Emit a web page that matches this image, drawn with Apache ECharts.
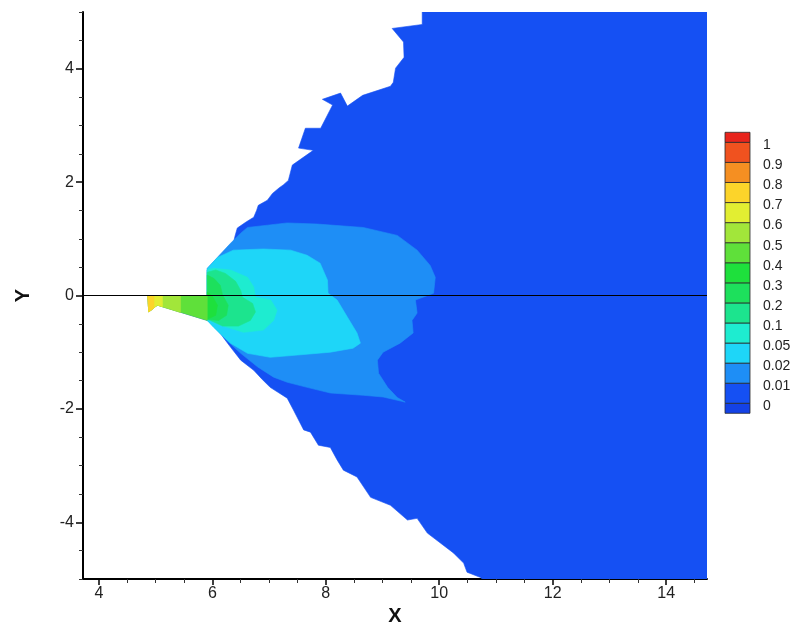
<!DOCTYPE html>
<html>
<head>
<meta charset="utf-8">
<script src="https://cdn.jsdelivr.net/npm/echarts@6/dist/echarts.min.js"></script>
<style>
html,body{margin:0;padding:0;background:#fff;}
#chart{width:799px;height:627px;}
</style>
</head>
<body>
<div id="chart"></div>
<script>
// ---- axis extents and ticks ----
const xRange = [3.72, 14.72];
const yRange = [-5, 5];
const xMajorTicks = [4, 6, 8, 10, 12, 14];
const xMinorTicks = [4.5, 5, 5.5, 6.5, 7, 7.5, 8.5, 9, 9.5, 10.5, 11, 11.5, 12.5, 13, 13.5, 14.5];
const yMajorTicks = [-4, -2, 0, 2, 4];
const yMinorTicks = [-5, -4.5, -3.5, -3, -2.5, -1.5, -1, -0.5, 0.5, 1, 1.5, 2.5, 3, 3.5, 4.5, 5];

// ---- contour levels and band colours (band 0 = below 0, band 14 = above 1) ----
const levelLabels = ['0', '0.01', '0.02', '0.05', '0.1', '0.2', '0.3', '0.4', '0.5', '0.6', '0.7', '0.8', '0.9', '1'];
const bandColors = ['#1442e6', '#1550f3', '#1e8ef6', '#1ed6f8', '#1eecd0', '#1ce48e', '#1de05c', '#1ee03c',
                    '#5fe03a', '#a2e63a', '#e2ee32', '#fcd42a', '#f58f22', '#f0521f', '#e8241c'];

// ---- contour regions (data coordinates X, Y) ----
const regionDomain = [
  [9.70, 5.0], [9.70, 4.78], [9.17, 4.71], [9.37, 4.47], [9.38, 4.20], [9.23, 4.01], [9.19, 3.76],
  [9.14, 3.69], [8.65, 3.53], [8.38, 3.34], [8.26, 3.57], [7.94, 3.46], [8.12, 3.36], [7.91, 2.95],
  [7.64, 2.95], [7.52, 2.60], [7.78, 2.56], [7.41, 2.30], [7.34, 2.03], [7.25, 1.95], [7.18, 1.90],
  [7.06, 1.80], [6.97, 1.68], [6.81, 1.59], [6.78, 1.50], [6.73, 1.38], [6.60, 1.30], [6.44, 1.19],
  [6.40, 1.05], [6.37, 0.92], [6.25, 0.80], [6.11, 0.66], [6.02, 0.55], [5.91, 0.45],
  [5.91, 0.0], [4.86, 0.0], [4.88, -0.29], [5.03, -0.17], [5.91, -0.44],
  [6.09, -0.56], [6.20, -0.75], [6.32, -0.91], [6.50, -1.14], [6.73, -1.32], [6.88, -1.48],
  [7.02, -1.62], [7.32, -1.81], [7.43, -2.02], [7.61, -2.37], [7.73, -2.41], [7.87, -2.64],
  [8.08, -2.68], [8.20, -2.90], [8.31, -3.08], [8.55, -3.20], [8.79, -3.56], [9.14, -3.70],
  [9.44, -3.96], [9.61, -3.93], [9.79, -4.19], [10.25, -4.54], [10.43, -4.72], [10.49, -4.88],
  [10.72, -4.97], [10.76, -5.0], [14.72, -5.0], [14.72, 5.0]
];
const region001 = [
  [5.91, 0.48], [6.32, 0.92], [6.50, 1.10], [6.62, 1.20], [6.97, 1.24], [7.32, 1.28], [7.85, 1.26],
  [8.66, 1.20], [9.26, 1.06], [9.61, 0.80], [9.84, 0.53], [9.93, 0.32], [9.90, 0.04], [9.58, -0.08],
  [9.61, -0.31], [9.52, -0.44], [9.54, -0.66], [9.31, -0.84], [9.01, -1.00], [8.91, -1.14],
  [8.93, -1.37], [9.09, -1.62], [9.26, -1.80], [9.40, -1.88], [9.01, -1.79], [8.66, -1.76],
  [8.08, -1.72], [7.67, -1.62], [7.32, -1.53], [7.08, -1.44], [6.80, -1.26], [6.50, -1.02],
  [6.20, -0.74], [5.97, -0.49], [5.91, -0.44]
];
const region002 = [
  [5.91, 0.47], [6.09, 0.67], [6.37, 0.80], [6.90, 0.82], [7.38, 0.80], [7.67, 0.71], [7.90, 0.57],
  [8.03, 0.27], [8.04, 0.04], [8.20, -0.08], [8.38, -0.38], [8.55, -0.66], [8.61, -0.84],
  [8.48, -0.93], [8.08, -1.00], [7.50, -1.05], [7.02, -1.09], [6.62, -1.02], [6.32, -0.84],
  [6.02, -0.56], [5.91, -0.44]
];
const region005 = [
  [5.91, 0.45], [6.02, 0.48], [6.32, 0.45], [6.62, 0.32], [6.73, 0.15], [6.76, -0.03], [7.03, -0.08],
  [7.14, -0.26], [7.08, -0.44], [6.90, -0.61], [6.55, -0.65], [6.26, -0.56], [5.97, -0.44], [5.91, -0.42]
];
const region01 = [
  [5.91, 0.41], [6.06, 0.45], [6.23, 0.39], [6.41, 0.25], [6.50, 0.09], [6.53, -0.03], [6.71, -0.14],
  [6.76, -0.29], [6.67, -0.44], [6.46, -0.54], [6.18, -0.54], [5.97, -0.44], [5.91, -0.42]
];
const region02 = [
  [5.91, 0.36], [6.03, 0.30], [6.14, 0.18], [6.18, 0.01], [6.28, -0.17], [6.25, -0.35], [6.11, -0.44], [5.91, -0.42]
];
const region03 = [
  [5.91, 0.06], [6.00, -0.01], [6.09, -0.17], [6.06, -0.35], [5.91, -0.42]
];
const regionTail04 = [[4.86, 0.0], [5.91, 0.0], [5.91, -0.44], [5.03, -0.17], [4.88, -0.29]];
const regionTail05 = [[4.86, 0.0], [5.44, 0.0], [5.44, -0.30], [5.03, -0.17], [4.88, -0.29]];
const regionTail06 = [[4.86, 0.0], [5.12, 0.0], [5.12, -0.20], [5.03, -0.17], [4.88, -0.29]];
const regionTail07 = [[4.86, 0.0], [4.97, 0.0], [4.97, -0.22], [4.88, -0.29]];
const zeroLine = [[3.72, 0], [14.72, 0]];

const regions = [
  { band: 1, pts: regionDomain },
  { band: 2, pts: region001 },
  { band: 3, pts: region002 },
  { band: 4, pts: region005 },
  { band: 5, pts: region01 },
  { band: 6, pts: region02 },
  { band: 7, pts: region03 },
  { band: 8, pts: regionTail04 },
  { band: 9, pts: regionTail05 },
  { band: 10, pts: regionTail06 },
  { band: 11, pts: regionTail07 }
];

// colour bar bands: [low index, high index, band]
const barBands = bandColors.map((c, k) => {
  const lo = k === 0 ? -0.5 : k - 1;
  const hi = k === bandColors.length - 1 ? levelLabels.length - 0.5 : k;
  return [lo, hi, k];
});

const FONT = 'Liberation Sans, Arial, Helvetica, sans-serif';
const chart = echarts.init(document.getElementById('chart'), null, { renderer: 'canvas' });

const option = {
  animation: false,
  backgroundColor: '#ffffff',
  grid: [
    { left: 83, right: 92, top: 12, bottom: 48, containLabel: false, outerBoundsMode: 'none' },
    { left: 725, width: 25, top: 132.3, height: 281, containLabel: false, outerBoundsMode: 'none' }
  ],
  xAxis: [
    {
      type: 'value', gridIndex: 0, min: xRange[0], max: xRange[1], position: 'bottom',
      name: 'X', nameLocation: 'middle', nameGap: 26,
      nameTextStyle: { fontFamily: FONT, fontWeight: 'bold', fontSize: 20, color: '#111' },
      axisLine: { show: true, onZero: false, lineStyle: { color: '#000', width: 2 } },
      axisTick: { show: true, customValues: xMajorTicks, length: 6, lineStyle: { color: '#000', width: 1.5 } },
      axisLabel: { show: true, customValues: xMajorTicks, margin: 7, fontFamily: FONT, fontSize: 16, color: '#222' },
      splitLine: { show: false }
    },
    {
      type: 'value', gridIndex: 0, min: xRange[0], max: xRange[1], position: 'bottom',
      axisLine: { show: false, onZero: false },
      axisTick: { show: true, customValues: xMinorTicks, length: 4, lineStyle: { color: '#333', width: 1 } },
      axisLabel: { show: false },
      splitLine: { show: false }
    },
    { type: 'value', gridIndex: 1, min: 0, max: 1, show: false }
  ],
  yAxis: [
    {
      type: 'value', gridIndex: 0, min: yRange[0], max: yRange[1], position: 'left',
      name: 'Y', nameLocation: 'middle', nameGap: 50, nameRotate: 90,
      nameTextStyle: { fontFamily: FONT, fontWeight: 'bold', fontSize: 20, color: '#111' },
      axisLine: { show: true, onZero: false, lineStyle: { color: '#000', width: 2 } },
      axisTick: { show: true, customValues: yMajorTicks, length: 7, lineStyle: { color: '#000', width: 1.5 } },
      axisLabel: { show: true, customValues: yMajorTicks, margin: 9, fontFamily: FONT, fontSize: 16, color: '#222' },
      splitLine: { show: false }
    },
    {
      type: 'value', gridIndex: 0, min: yRange[0], max: yRange[1], position: 'left',
      axisLine: { show: false, onZero: false },
      axisTick: { show: true, customValues: yMinorTicks, length: 4, lineStyle: { color: '#333', width: 1 } },
      axisLabel: { show: false },
      splitLine: { show: false }
    },
    {
      type: 'value', gridIndex: 1, min: -0.5, max: levelLabels.length - 0.5, position: 'right',
      axisLine: { show: false }, axisTick: { show: false }, splitLine: { show: false },
      axisLabel: {
        show: true, customValues: levelLabels.map((l, i) => i - 0.15), margin: 13,
        fontFamily: FONT, fontSize: 14, color: '#222',
        formatter: v => levelLabels[Math.round(v)]
      }
    }
  ],
  series: [
    {
      type: 'custom', xAxisIndex: 0, yAxisIndex: 0, clip: true,
      data: regions.map((r, i) => [r.pts[0][0], r.pts[0][1], i]),
      encode: { x: 0, y: 1 },
      renderItem: function (params, api) {
        const r = regions[params.dataIndex];
        const pts = r.pts.map(p => api.coord(p));
        const c = bandColors[r.band];
        return { type: 'polygon', shape: { points: pts }, style: { fill: c, stroke: c, lineWidth: 0.6 } };
      }
    },
    {
      type: 'line', xAxisIndex: 0, yAxisIndex: 0, data: zeroLine, symbol: 'none',
      lineStyle: { color: '#000', width: 1 }, silent: true
    },
    {
      type: 'custom', xAxisIndex: 2, yAxisIndex: 2,
      data: barBands,
      encode: { x: 2, y: [0, 1] },
      renderItem: function (params, api) {
        const lo = api.value(0), hi = api.value(1), k = api.value(2);
        const p1 = api.coord([0, hi]);
        const p2 = api.coord([1, lo]);
        return {
          type: 'rect',
          shape: { x: p1[0], y: p1[1], width: p2[0] - p1[0], height: p2[1] - p1[1] },
          style: { fill: bandColors[k], stroke: '#2a2a2a', lineWidth: 0.8 }
        };
      }
    }
  ]
};
chart.setOption(option);
</script>
</body>
</html>
